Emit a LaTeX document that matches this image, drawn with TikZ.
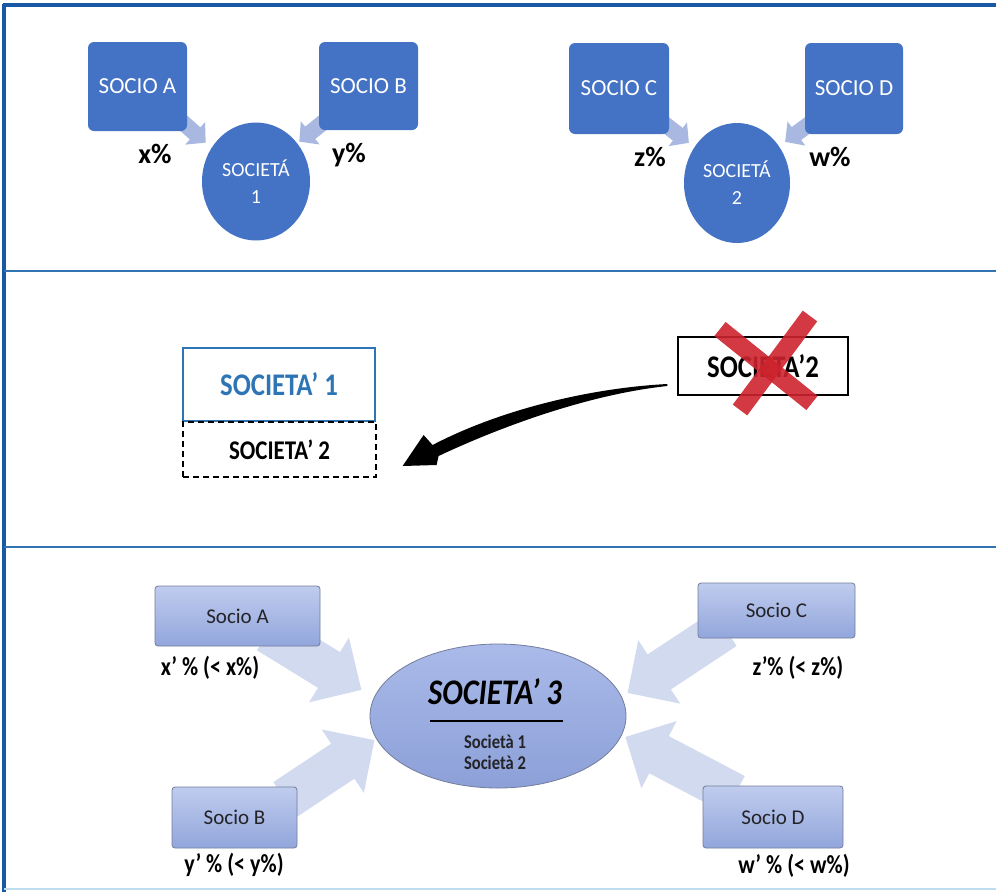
\documentclass[tikz,border=0pt]{standalone}
\usepackage{fontspec}
\setmainfont{Carlito}
\newfontfamily\condfont[FakeStretch=0.85]{Carlito}
\usetikzlibrary{shapes.geometric,calc,backgrounds}
\definecolor{topblue}{RGB}{68,114,196}
\definecolor{toparr}{RGB}{168,184,224}
\definecolor{frameblue}{RGB}{25,88,165}
\definecolor{sepblue}{RGB}{50,115,180}
\definecolor{s1blue}{RGB}{46,117,182}
\definecolor{xred}{RGB}{205,35,45}
\definecolor{boxtop}{RGB}{192,204,238}
\definecolor{boxbot}{RGB}{146,166,220}
\definecolor{boxline}{RGB}{115,125,155}
\definecolor{botarr}{RGB}{210,218,240}
\definecolor{elltop}{RGB}{170,186,233}
\definecolor{ellbot}{RGB}{140,160,216}
\definecolor{txtdark}{RGB}{35,35,40}
\definecolor{bottomline}{RGB}{190,222,240}
\newcommand{\blockarr}[6]{%
  \fill[#1] let \p1=#2, \p2=#3,
    \n1={atan2(\y2-\y1,\x2-\x1)}, \n2={veclen(\x2-\x1,\y2-\y1)} in
    ([shift={(\p1)},rotate=\n1]0pt,#4)
 -- ([shift={(\p1)},rotate=\n1]{\n2*1pt-#6},#4)
 -- ([shift={(\p1)},rotate=\n1]{\n2*1pt-#6},#5)
 -- ([shift={(\p1)},rotate=\n1]{\n2*1pt},0pt)
 -- ([shift={(\p1)},rotate=\n1]{\n2*1pt-#6},-#5)
 -- ([shift={(\p1)},rotate=\n1]{\n2*1pt-#6},-#4)
 -- ([shift={(\p1)},rotate=\n1]0pt,-#4) -- cycle;}
\tikzset{
  topbox/.style={rectangle, rounded corners=6pt, fill=topblue, text=white,
    font=\fontsize{23}{27}\selectfont, inner sep=0pt},
  topell/.style={ellipse, fill=topblue, text=white, align=center,
    font=\fontsize{20}{27}\selectfont, inner sep=0pt},
  pct/.style={font=\bfseries\fontsize{28}{32}\selectfont, text=black},
  botbox/.style={rectangle, rounded corners=3pt, top color=boxtop, bottom color=boxbot,
    draw=boxline, line width=0.8pt, text=txtdark, font=\fontsize{21}{25}\selectfont, inner sep=0pt},
  botlab/.style={font=\condfont\bfseries\fontsize{26}{30}\selectfont, text=black},
  midtxt/.style={font=\condfont\bfseries\fontsize{31.5}{35}\selectfont},
}
\begin{document}
\begin{tikzpicture}[x=1pt,y=-1pt]
\useasboundingbox (0,0) rectangle (996,892);
% frame
\draw[frameblue, line width=3.5pt] (3,5) -- (996,5);
\draw[frameblue, line width=3.5pt] (4,4) -- (4,892);
\draw[sepblue, line width=2.5pt] (4,271) -- (996,271);
\draw[sepblue, line width=2.5pt] (4,547) -- (996,547);
\draw[bottomline, line width=2pt] (4,889) -- (996,889);

% ---------- top section
\node[topbox, minimum width=99pt, minimum height=89pt] (sA) at (137.5,86.5) {SOCIO A};
\node[topbox, minimum width=99pt, minimum height=88pt] (sB) at (368.5,86) {SOCIO B};
\node[topbox, minimum width=100pt, minimum height=91pt] (sC) at (619,88.5) {SOCIO C};
\node[topbox, minimum width=98pt, minimum height=91pt] (sD) at (854,88.5) {SOCIO D};
\node[topell, minimum width=108pt, minimum height=118pt] (e1) at (256,181.5) {SOCIETÁ\\1};
\node[topell, minimum width=106pt, minimum height=120pt] (e2) at (737,183) {SOCIETÁ\\2};
\node[pct] (px) at (155,154) {x\%};
\node[pct] (py) at (349,155) {y\%};
\node[pct] (pz) at (650,157) {z\%};
\node[pct] (pw) at (830,157) {w\%};
\begin{pgfonlayer}{background}
\blockarr{toparr}{([shift={(-7,-11)}]sA.south east)}{([shift={(-12,3)}]e1.north west)}{8pt}{15pt}{14pt}
\blockarr{toparr}{([shift={(7,-10)}]sB.south west)}{([shift={(5,2)}]e1.north east)}{8pt}{15pt}{14pt}
\blockarr{toparr}{([shift={(-7,-12)}]sC.south east)}{([shift={(-10.5,2.4)}]e2.north west)}{8pt}{15pt}{14pt}
\blockarr{toparr}{([shift={(7,-12)}]sD.south west)}{([shift={(10.5,1.4)}]e2.north east)}{8pt}{15pt}{14pt}
\end{pgfonlayer}

% ---------- middle section
\node[draw=s1blue, line width=1.2pt, minimum width=192pt, minimum height=73pt, inner sep=0pt,
  midtxt, text=s1blue] (s11) at (279,384.5) {SOCIETA’ 1};
\node[draw=black, dash pattern=on 6pt off 4pt, line width=1.2pt, minimum width=193pt, minimum height=55pt, inner sep=0pt,
  font=\condfont\bfseries\fontsize{27}{31}\selectfont] (s12) at (279.5,449.5) {SOCIETA’ 2};
\node[draw=black, line width=1.2pt, minimum width=170pt, minimum height=58pt, inner sep=0pt,
  midtxt] (x2) at (763,366) {SOCIETA’2};
\draw[xred, opacity=0.9, line width=18pt] (720,329) -- (812,403);
\draw[xred, opacity=0.9, line width=18pt] (810,316) -- (740,410);
\coordinate (atail) at ($(x2.west)+(-10,18)$);
\coordinate (atip) at ($(s12.east)+(26,16.5)$);
\fill[black] (atail) .. controls ($(atail)+(-78,4)$) and ($(atail)+(-168,26)$) .. ($(atip)+(30,-21)$)
  -- ($(atip)+(21,-31)$) -- (atip) -- ($(atip)+(34,-1)$) -- ($(atip)+(36,-10)$)
  .. controls ($(atail)+(-163,41)$) and ($(atail)+(-76,10)$) .. ($(atail)+(0,2)$) -- cycle;

% ---------- bottom section
\node[botbox, minimum width=165pt, minimum height=60pt] (bA) at (237.5,616) {Socio A};
\node[botbox, minimum width=125pt, minimum height=61pt] (bB) at (234.5,817.5) {Socio B};
\node[botbox, minimum width=157pt, minimum height=55pt] (bC) at (776.5,610.5) {Socio C};
\node[botbox, minimum width=140pt, minimum height=62pt] (bD) at (773,817) {Socio D};
\node[ellipse, top color=elltop, bottom color=ellbot, draw=boxline, line width=0.8pt,
  minimum width=256pt, minimum height=144pt] (e3) at (498,716) {};
\node[font=\condfont\bfseries\itshape\fontsize{36}{40}\selectfont, text=black] (t3) at (495,692) {SOCIETA’ 3};
\coordinate (u3a) at (430,721);
\coordinate (u3b) at (563,721);
\draw[black, line width=2pt] (u3a) -- (u3b);
\node[font=\condfont\bfseries\fontsize{19.5}{22}\selectfont, text=txtdark] (t31) at (495,742) {Società 1};
\node[font=\condfont\bfseries\fontsize{19.5}{22}\selectfont, text=txtdark] (t32) at (495,763) {Società 2};
\node[botlab] (lx) at (210,668) {x’ \% (< x\%)};
\node[botlab] (ly) at (234,865) {y’ \% (< y\%)};
\node[botlab] (lz) at (798,668) {z’\% (< z\%)};
\node[botlab] (lw) at (794,866) {w’ \% (< w\%)};
\begin{pgfonlayer}{background}
\blockarr{botarr}{([shift={(30.5,-14)}]bA.south)}{([shift={(-8,-26)}]e3.west)}{21pt}{38pt}{38pt}
\blockarr{botarr}{([shift={(50.5,13)}]bB.north)}{([shift={(5,24)}]e3.west)}{21pt}{38pt}{38pt}
\blockarr{botarr}{([shift={(-51.5,-10)}]bC.south)}{([shift={(1,-23)}]e3.east)}{21pt}{38pt}{38pt}
\blockarr{botarr}{([shift={(-38,9)}]bD.north)}{([shift={(-1,21)}]e3.east)}{21pt}{38pt}{38pt}
\end{pgfonlayer}
\end{tikzpicture}
\end{document}
